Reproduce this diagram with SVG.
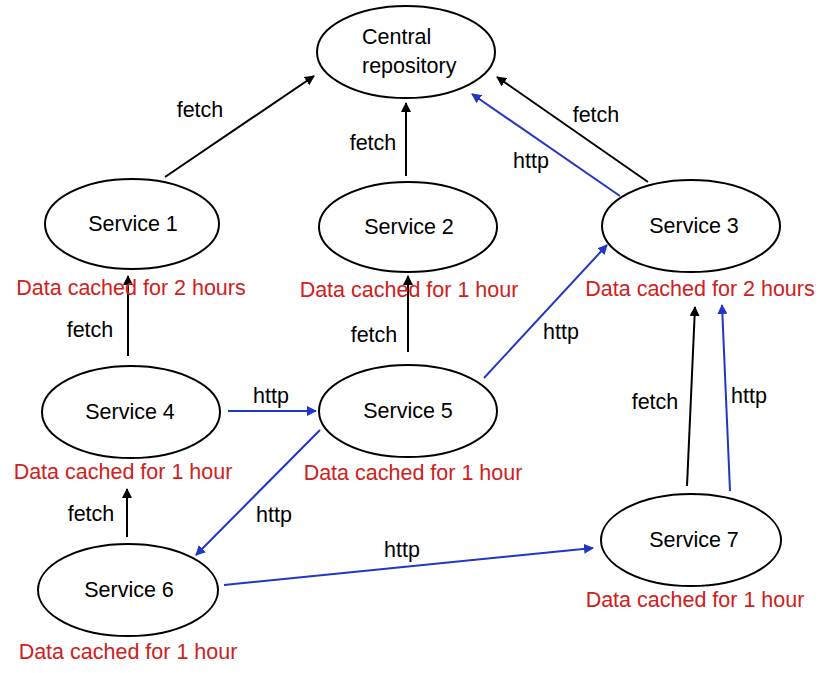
<svg xmlns="http://www.w3.org/2000/svg" width="820" height="673" viewBox="0 0 820 673">
<defs>
<marker id="ab" viewBox="0 0 10 10" refX="9" refY="5" markerWidth="10" markerHeight="10" markerUnits="userSpaceOnUse" orient="auto"><path d="M0,0 L10,5 L0,10 z" fill="#000"/></marker>
<marker id="au" viewBox="0 0 10 10" refX="9" refY="5" markerWidth="10" markerHeight="10" markerUnits="userSpaceOnUse" orient="auto"><path d="M0,0 L10,5 L0,10 z" fill="#2236c4"/></marker>
</defs>
<style>
.n{fill:#fff;stroke:#000;stroke-width:2}
text{font-family:"Liberation Sans",Arial,sans-serif;font-size:21.5px;text-anchor:middle;fill:#000}
.s{text-anchor:start}
.r{fill:#d02020}
.k{stroke:#000;stroke-width:2;fill:none;marker-end:url(#ab)}
.b{stroke:#2236c4;stroke-width:2;fill:none;marker-end:url(#au)}
</style>
<rect width="820" height="673" fill="#fff"/>
<g id="connectors">
<line class="k" x1="165" y1="177" x2="314" y2="76"/>
<line class="k" x1="406" y1="176" x2="406" y2="103"/>
<line class="k" x1="648" y1="182" x2="497" y2="77"/>
<line class="b" x1="620" y1="196" x2="472" y2="94"/>
<line class="k" x1="128" y1="356" x2="128" y2="276"/>
<line class="k" x1="408" y1="352" x2="408" y2="276"/>
<line class="b" x1="484" y1="378" x2="607" y2="245"/>
<line class="b" x1="228" y1="411" x2="316" y2="411"/>
<line class="b" x1="320" y1="430" x2="196" y2="555"/>
<line class="k" x1="127" y1="537" x2="127" y2="489"/>
<line class="b" x1="224" y1="585" x2="593" y2="548"/>
<line class="k" x1="687" y1="486" x2="695" y2="307"/>
<line class="b" x1="730" y1="491" x2="722" y2="305"/>
<text x="200" y="117">fetch</text>
<text x="373" y="150">fetch</text>
<text x="596" y="122">fetch</text>
<text x="531" y="168">http</text>
<text x="90" y="337">fetch</text>
<text x="374" y="342">fetch</text>
<text x="561" y="339">http</text>
<text x="271" y="403">http</text>
<text x="274" y="522">http</text>
<text x="91" y="521">fetch</text>
<text x="402" y="557">http</text>
<text x="655" y="409">fetch</text>
<text x="749" y="403">http</text>
</g>
<g id="central"><ellipse class="n" cx="406" cy="52" rx="89" ry="46"/><text class="s" x="362" y="44">Central</text><text class="s" x="362" y="73">repository</text></g>
<g id="s1"><ellipse class="n" cx="132" cy="224" rx="87" ry="45"/><text x="133" y="231">Service 1</text><text class="r" x="131" y="295">Data cached for 2 hours</text></g>
<g id="s2"><ellipse class="n" cx="408" cy="227" rx="89" ry="45"/><text x="409" y="234">Service 2</text><text class="r" x="409" y="297">Data cached for 1 hour</text></g>
<g id="s3"><ellipse class="n" cx="691" cy="226" rx="89" ry="46"/><text x="694" y="233">Service 3</text><text class="r" x="700" y="296">Data cached for 2 hours</text></g>
<g id="s4"><ellipse class="n" cx="131" cy="412" rx="89" ry="46"/><text x="130" y="419">Service 4</text><text class="r" x="123" y="479">Data cached for 1 hour</text></g>
<g id="s5"><ellipse class="n" cx="408" cy="411" rx="89" ry="46"/><text x="408" y="418">Service 5</text><text class="r" x="413" y="480">Data cached for 1 hour</text></g>
<g id="s6"><ellipse class="n" cx="128" cy="590" rx="90" ry="46"/><text x="129" y="597">Service 6</text><text class="r" x="128" y="659">Data cached for 1 hour</text></g>
<g id="s7"><ellipse class="n" cx="691" cy="540" rx="90" ry="46"/><text x="694" y="547">Service 7</text><text class="r" x="695" y="607">Data cached for 1 hour</text></g>
</svg>
